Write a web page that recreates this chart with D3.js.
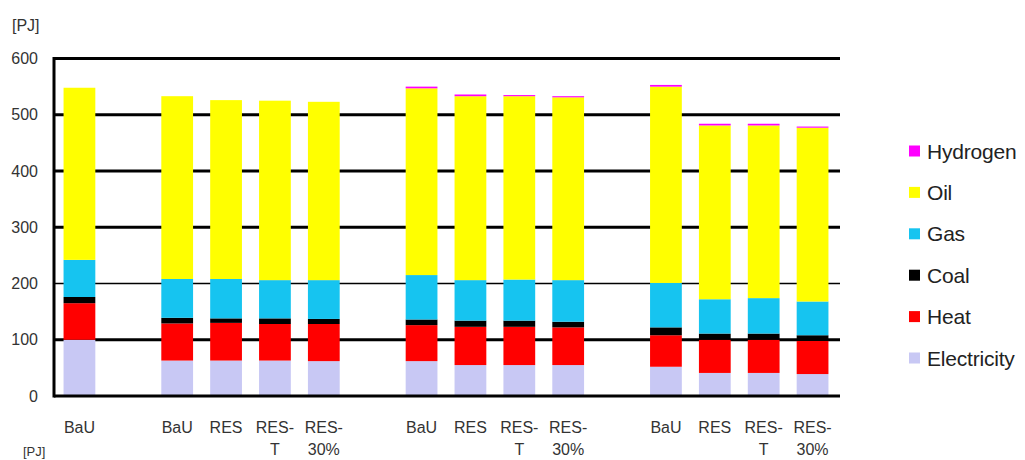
<!DOCTYPE html>
<html>
<head>
<meta charset="utf-8">
<script src="https://cdn.jsdelivr.net/npm/d3@7/dist/d3.min.js"></script>
<style>
  html, body { margin: 0; padding: 0; background: #fff; }
  svg { display: block; font-family: "Liberation Sans", Arial, sans-serif; }
</style>
</head>
<body>
<svg id="chart" width="1025" height="460"></svg>
<script>
// ---- data ----
const scenarios = ["BaU", "BaU", "RES", "RES-T", "RES-30%", "BaU", "RES", "RES-T", "RES-30%", "BaU", "RES", "RES-T", "RES-30%"];
const groupOf   = [0, 1, 1, 1, 1, 2, 2, 2, 2, 3, 3, 3, 3];
const tickLabels = [["BaU"], ["BaU"], ["RES"], ["RES-", "T"], ["RES-", "30%"],
                    ["BaU"], ["RES"], ["RES-", "T"], ["RES-", "30%"],
                    ["BaU"], ["RES"], ["RES-", "T"], ["RES-", "30%"]];
const electricity = [100, 63, 63, 63, 62, 62, 55, 55, 55, 52, 41, 41, 39];
const heat        = [65, 66, 67, 65, 66, 64, 68, 68, 67, 56, 59, 59, 59];
const coal        = [11, 10, 8, 10, 9, 10, 11, 11, 10, 14, 11, 11, 10];
const gas         = [66, 69, 70, 68, 69, 79, 72, 73, 74, 79, 61, 63, 60];
const oil         = [306, 325, 318, 319, 317, 332, 327, 326, 325, 349, 309, 307, 309];
const hydrogen    = [0, 0, 0, 0, 0, 3, 3, 2, 2, 3, 3, 3, 2];
const seriesNames = ["Electricity", "Heat", "Coal", "Gas", "Oil", "Hydrogen"];
const seriesColors = ["#c8c8f4", "#ff0000", "#000000", "#16c4f0", "#ffff00", "#ff00ff"];
const yTicks = [0, 100, 200, 300, 400, 500, 600];
const unitLabel = "[PJ]";

// ---- build table ----
const seriesValues = [electricity, heat, coal, gas, oil, hydrogen];
const rows = scenarios.map((s, i) => {
  const r = { key: "b" + i, scenario: s, idx: i };
  seriesNames.forEach((n, k) => r[n] = seriesValues[k][i]);
  return r;
});
// slot domain with blank gap slots between groups
const slots = [];
rows.forEach((r, i) => {
  if (i > 0 && groupOf[i] !== groupOf[i - 1]) slots.push("gap" + i);
  slots.push(r.key);
});

const svg = d3.select("#chart");
const plotLeft = 54, plotRight = 840, plotTop = 58.5, plotBottom = 396;

const x = d3.scaleBand().domain(slots).range([55, 837]).paddingInner(0.35).paddingOuter(0.175);
const y = d3.scaleLinear().domain([0, 600]).range([plotBottom, plotTop]);

// gridlines
svg.append("g").selectAll("line").data(yTicks.filter(t => t > 0)).join("line")
  .attr("x1", plotLeft).attr("x2", plotRight)
  .attr("y1", d => y(d)).attr("y2", d => y(d))
  .attr("stroke", "#000")
  .attr("stroke-width", d => d === 200 ? 1.3 : 3);

// bars
const stack = d3.stack().keys(seriesNames);
const stacked = stack(rows);
svg.append("g").selectAll("g").data(stacked).join("g")
  .attr("fill", (d, i) => seriesColors[i])
  .selectAll("rect").data(d => d).join("rect")
  .attr("x", d => x(d.data.key))
  .attr("width", x.bandwidth())
  .attr("y", d => y(d[1]))
  .attr("height", d => Math.max(0, y(d[0]) - y(d[1])));

// axes lines
svg.append("line").attr("x1", plotLeft).attr("x2", plotLeft)
  .attr("y1", plotTop - 1.5).attr("y2", plotBottom + 1.5)
  .attr("stroke", "#000").attr("stroke-width", 3);
svg.append("line").attr("x1", plotLeft).attr("x2", plotRight)
  .attr("y1", plotBottom).attr("y2", plotBottom)
  .attr("stroke", "#000").attr("stroke-width", 3);

// y tick labels
const yAxis = d3.axisLeft(y).tickValues(yTicks).tickSize(0).tickPadding(16);
const ya = svg.append("g").attr("transform", `translate(${plotLeft},0)`).call(yAxis);
ya.select(".domain").remove();
ya.selectAll("text").attr("font-size", 16).attr("fill", "#333")
  .attr("font-family", "Liberation Sans, Arial, sans-serif");

// x tick labels
const xa = svg.append("g");
rows.forEach((r, i) => {
  const t = xa.append("text")
    .attr("x", x(r.key) + x.bandwidth() / 2)
    .attr("y", 433)
    .attr("text-anchor", "middle")
    .attr("font-size", 16)
    .attr("fill", "#333");
  tickLabels[i].forEach((line, j) => {
    t.append("tspan").attr("x", x(r.key) + x.bandwidth() / 2)
      .attr("dy", j === 0 ? 0 : 22).text(line);
  });
});

// unit labels
svg.append("text").attr("x", 12).attr("y", 31).attr("font-size", 16).attr("fill", "#333").text(unitLabel);
svg.append("text").attr("x", 23).attr("y", 456).attr("font-size", 13).attr("fill", "#333").text(unitLabel);

// legend
const legendOrder = seriesNames.slice().reverse();
const lg = svg.append("g");
legendOrder.forEach((n, i) => {
  const cy = 151 + i * 41.4;
  lg.append("rect").attr("x", 909).attr("y", cy - 5.5).attr("width", 11).attr("height", 11)
    .attr("fill", seriesColors[seriesNames.indexOf(n)]);
  lg.append("text").attr("x", 927).attr("y", cy).attr("dy", "0.36em")
    .attr("font-size", 21).attr("letter-spacing", -0.2).attr("fill", "#222").text(n);
});
</script>
</body>
</html>
